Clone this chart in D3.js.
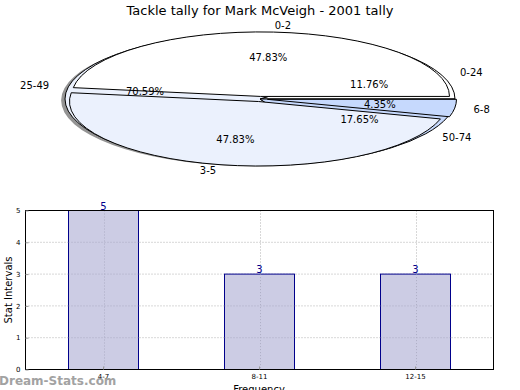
<!DOCTYPE html>
<html><head><meta charset="utf-8">
<script src="https://cdn.jsdelivr.net/npm/d3@7"></script>
<style>
body{margin:0;background:#fff;}
text{font-family:"DejaVu Sans",sans-serif;}
</style></head>
<body><svg id="c" width="520" height="390"></svg>
<script>
// ---- data ----
const title = "Tackle tally for Mark McVeigh - 2001 tally";
const pieALabels = ["0-2", "3-5", "6-8"];
const pieAValues = [11, 11, 1];
const pieBLabels = ["0-24", "25-49", "50-74"];
const pieBValues = [2, 12, 3];
const barCategories = ["4-7", "8-11", "12-15"];
const barValues = [5, 3, 3];
const yTicks = [0, 1, 2, 3, 4, 5];
const pieColors = ["#ffffff", "#ebf1fd", "#c6d9fd"];

const svg = d3.select("#c");
svg.append("rect").attr("width",520).attr("height",390).attr("fill","#fff");

svg.append("text").attr("x",260).attr("y",15).attr("text-anchor","middle")
  .attr("font-size",13).text(title);

const cx = 260, cy = 99;

function drawPie(values, labels, rx, ry, explode, shadow) {
  const total = d3.sum(values);
  let acc = 0;
  const wedges = values.map((v,i)=>{
    const t1 = acc/total*2*Math.PI; acc += v;
    const t2 = acc/total*2*Math.PI;
    return {v, i, t1, t2, mid:(t1+t2)/2, label:labels[i]};
  });
  const k = ry/rx;
  const g = svg.append("g").attr("transform",`translate(${cx},${cy}) scale(1,${k})`);
  const arc = d3.arc().innerRadius(0).outerRadius(rx);
  const toD3 = w => ({startAngle: Math.PI/2 - w.t2, endAngle: Math.PI/2 - w.t1});
  if (shadow) {
    wedges.forEach(w=>{
      const dx = explode*rx*Math.cos(w.mid), dy = -explode*rx*Math.sin(w.mid);
      g.append("path").attr("d",arc(toD3(w)))
        .attr("transform",`translate(${dx-0.02*rx},${dy+0.02*rx})`)
        .attr("fill","#4d4d4d").attr("opacity",0.6);
    });
  }
  wedges.forEach(w=>{
    const dx = explode*rx*Math.cos(w.mid), dy = -explode*rx*Math.sin(w.mid);
    g.append("path").attr("d",arc(toD3(w)))
      .attr("transform",`translate(${dx},${dy})`)
      .attr("fill",pieColors[w.i]).attr("stroke","#000")
      .attr("stroke-width",1).attr("vector-effect","non-scaling-stroke")
      .attr("stroke-linejoin","round");
  });
  return wedges.map(w=>{
    const ex = cx + explode*rx*Math.cos(w.mid), ey = cy - explode*ry*Math.sin(w.mid);
    const c = Math.cos(w.mid), s = Math.sin(w.mid);
    return {w, total, ex, ey, c, s, rx, ry};
  });
}

const labB = drawPie(pieBValues, pieBLabels, 195, 66, 0, true);
const labA = drawPie(pieAValues, pieALabels, 189, 64.5, 0.04, false);

[labB, labA].forEach(arr=>arr.forEach(d=>{
  const lx = d.ex + 1.1*d.rx*d.c, ly = d.ey - 1.1*d.ry*d.s;
  svg.append("text").attr("x",lx).attr("y",ly).attr("dy","0.35em")
    .attr("text-anchor", d.c>0 ? "start" : "end")
    .attr("font-size",10).text(d.w.label);
  const px = d.ex + 0.6*d.rx*d.c, py = d.ey - 0.6*d.ry*d.s;
  svg.append("text").attr("x",px).attr("y",py).attr("dy","0.35em")
    .attr("text-anchor","middle").attr("font-size",10)
    .text((d.w.v/d.total*100).toFixed(2)+"%");
}));

// ---- bar chart ----
const L = 25.5, R = 493.5, T = 210.5, B = 369.5;
const x = d3.scaleBand().domain(barCategories).range([L,R]).padding(0);
const y = d3.scaleLinear().domain([0,5]).range([B,T]);

const grid = svg.append("g").attr("stroke","#b0b0b0").attr("stroke-dasharray","1,2").attr("stroke-width",1);
yTicks.forEach(t=>{
  grid.append("line").attr("x1",L).attr("x2",R).attr("y1",y(t)).attr("y2",y(t));
});
barCategories.forEach(c=>{
  const xc = Math.round(x(c)+x.bandwidth()/2)+0.5;
  grid.append("line").attr("x1",xc).attr("x2",xc).attr("y1",T).attr("y2",B);
});

const bw = x.bandwidth()*0.45;
svg.append("g").selectAll("rect").data(barValues).join("rect")
  .attr("x",(d,i)=>Math.round(x(barCategories[i])+x.bandwidth()/2-bw/2)+0.5)
  .attr("y",d=>y(d))
  .attr("width",Math.round(bw))
  .attr("height",d=>B-y(d))
  .attr("fill","#cccce4")
  .attr("stroke","#00008b").attr("stroke-width",1);

const grid2 = svg.append("g").attr("stroke","#9a9ab0").attr("stroke-dasharray","1,2").attr("stroke-width",1).attr("opacity",0.6);
yTicks.forEach(t=>{
  barCategories.forEach((c,i)=>{
    const x0 = Math.round(x(c)+x.bandwidth()/2-bw/2)+0.5;
    if (t>0 && t<barValues[i]) grid2.append("line").attr("x1",x0).attr("x2",x0+Math.round(bw)).attr("y1",y(t)).attr("y2",y(t));
  });
});
barCategories.forEach((c,i)=>{
  const xc = Math.round(x(c)+x.bandwidth()/2)+0.5;
  grid2.append("line").attr("x1",xc).attr("x2",xc).attr("y1",y(barValues[i])).attr("y2",B);
});

svg.append("g").selectAll("text").data(barValues).join("text")
  .attr("x",(d,i)=>x(barCategories[i])+x.bandwidth()/2)
  .attr("y",d=>y(d)-1)
  .attr("text-anchor","middle").attr("font-size",10).attr("fill","#00008b")
  .text(d=>d);

svg.append("rect").attr("x",L).attr("y",T).attr("width",R-L).attr("height",B-T)
  .attr("fill","none").attr("stroke","#000").attr("stroke-width",1);

const yAxis = svg.append("g").attr("transform",`translate(${L},0)`)
  .call(d3.axisLeft(y).tickValues(yTicks).tickSize(-3).tickPadding(5).tickFormat(d3.format("d")));
yAxis.select(".domain").remove();
yAxis.selectAll("line").attr("stroke","#999");
yAxis.selectAll("text").attr("font-size",7).attr("font-family","DejaVu Sans");

const xAxis = svg.append("g").attr("transform",`translate(0,${B})`)
  .call(d3.axisBottom(x).tickSize(-3).tickPadding(5));
xAxis.select(".domain").remove();
xAxis.selectAll("line").attr("stroke","#999");
xAxis.selectAll("text").attr("font-size",7).attr("font-family","DejaVu Sans");

svg.append("text").attr("transform","translate(12,290) rotate(-90)")
  .attr("text-anchor","middle").attr("font-size",10).text("Stat Intervals");
svg.append("text").attr("x",259).attr("y",393).attr("text-anchor","middle")
  .attr("font-size",10).text("Frequency");

svg.append("text").attr("x",-1).attr("y",385).attr("font-size",12).attr("font-weight","bold")
  .attr("fill","#999").attr("opacity",0.9).text("Dream-Stats.com");
</script></body></html>
